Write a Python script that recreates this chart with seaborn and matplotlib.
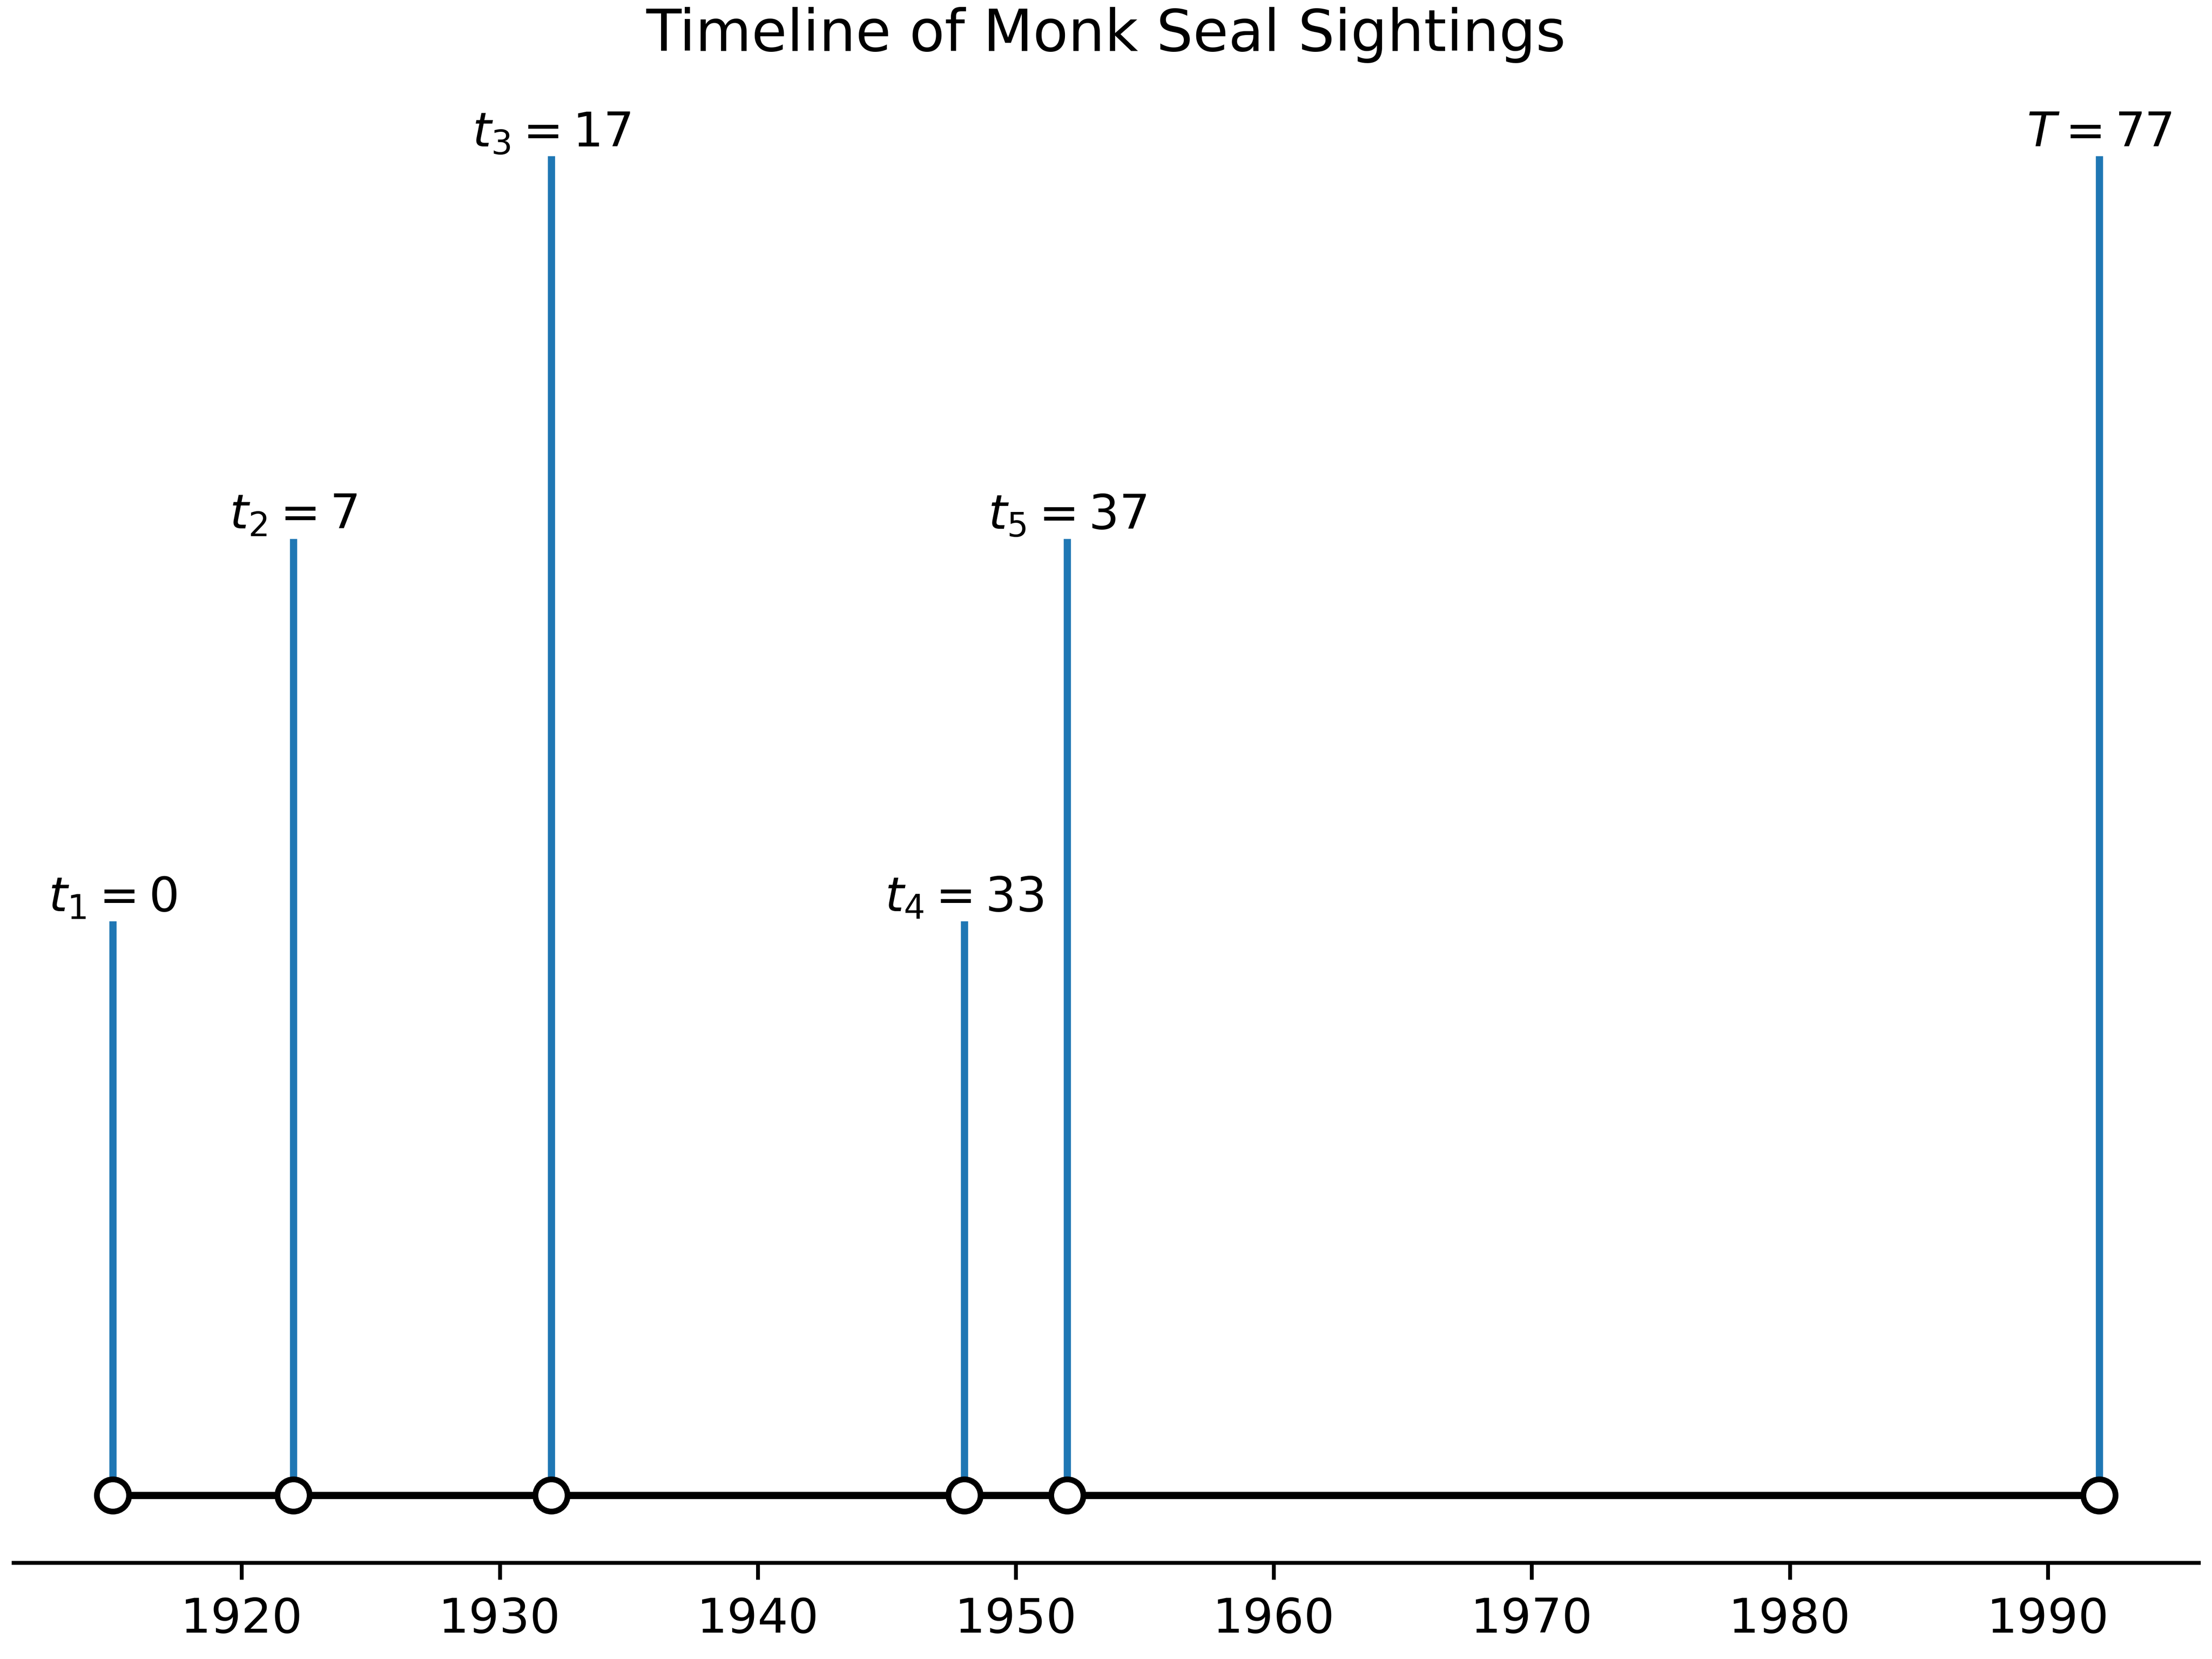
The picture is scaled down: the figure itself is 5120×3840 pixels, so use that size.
import matplotlib.pyplot as plt
import pandas as pd
import seaborn as sb

# sightings data
years = [1915, 1922, 1932, 1948, 1952, 1992]
levels = [3, 5, 7, 3, 5, 7]
labels = [r"$t_1 = 0$", r"$t_2 = 7$", r"$t_3 = 17$", r"$t_4 = 33$", r"$t_5 = 37$", r"$T = 77$"]

df = pd.DataFrame({"year": years, "level": levels, "base": [0] * len(years)})

sb.set_style("ticks", {"text.color": "black", "xtick.color": "black", "axes.edgecolor": "black"})
fig, ax = plt.subplots(figsize=(6.4, 4.8))
fig.subplots_adjust(left=0.006, right=0.994, bottom=0.058, top=0.952)

ax.vlines(df["year"], 0, df["level"], color="tab:blue", linewidth=1.5, zorder=1)
sb.lineplot(data=df, x="year", y="base", color="black", linewidth=1.5, ax=ax, zorder=2)
sb.scatterplot(data=df, x="year", y="base", s=45, color="white", edgecolor="black",
               linewidth=1.2, ax=ax, zorder=3)

for yr, lv, lab in zip(years, levels, labels):
    ax.text(yr, lv, lab, ha="center", va="bottom", fontsize=10, color="black")

ax.set_ylim(-0.354, 7.4)
ax.set_xlim(1911.15, 1995.85)
ax.set_xticks(range(1920, 1991, 10))
ax.set_yticks([])
ax.set_xlabel("")
ax.set_ylabel("")
ax.set_title("Timeline of Monk Seal Sightings", fontsize=12, color="black")
sb.despine(ax=ax, left=True)
ax.tick_params(axis="x", labelsize=10, labelcolor="black", color="black")

fig.savefig("out.png", dpi=800)
